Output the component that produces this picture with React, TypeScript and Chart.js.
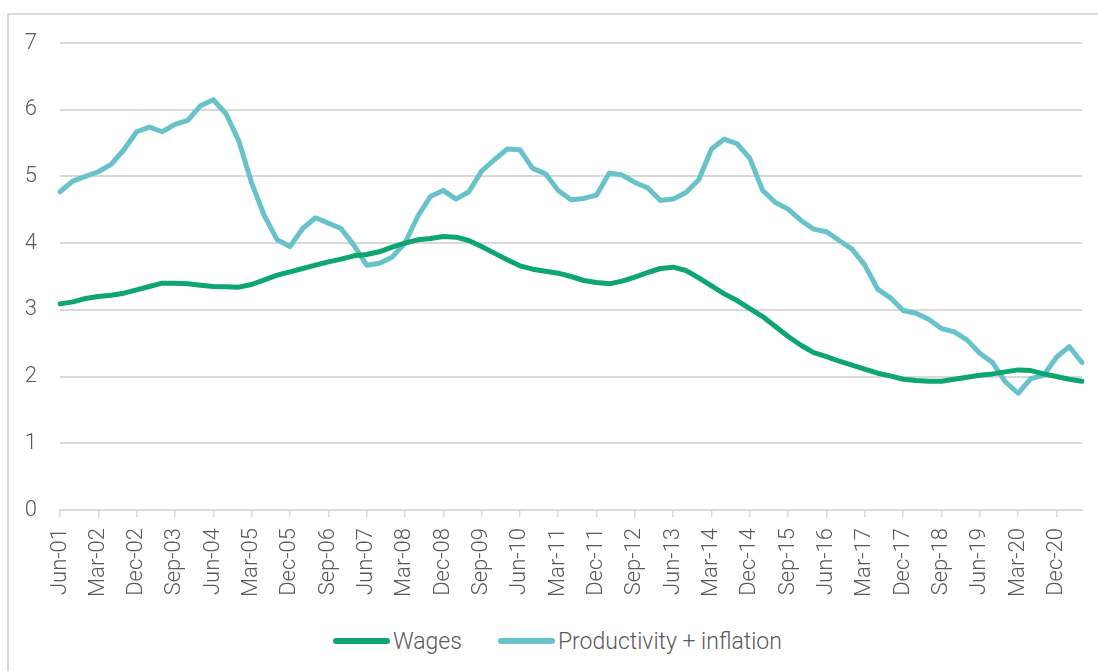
import React, { useEffect, useRef } from "react";
import { Chart, registerables } from "chart.js";

Chart.register(...registerables);

const quarters: string[] = [
  "Jun-01", "Sep-01", "Dec-01",
  "Mar-02", "Jun-02", "Sep-02", "Dec-02",
  "Mar-03", "Jun-03", "Sep-03", "Dec-03",
  "Mar-04", "Jun-04", "Sep-04", "Dec-04",
  "Mar-05", "Jun-05", "Sep-05", "Dec-05",
  "Mar-06", "Jun-06", "Sep-06", "Dec-06",
  "Mar-07", "Jun-07", "Sep-07", "Dec-07",
  "Mar-08", "Jun-08", "Sep-08", "Dec-08",
  "Mar-09", "Jun-09", "Sep-09", "Dec-09",
  "Mar-10", "Jun-10", "Sep-10", "Dec-10",
  "Mar-11", "Jun-11", "Sep-11", "Dec-11",
  "Mar-12", "Jun-12", "Sep-12", "Dec-12",
  "Mar-13", "Jun-13", "Sep-13", "Dec-13",
  "Mar-14", "Jun-14", "Sep-14", "Dec-14",
  "Mar-15", "Jun-15", "Sep-15", "Dec-15",
  "Mar-16", "Jun-16", "Sep-16", "Dec-16",
  "Mar-17", "Jun-17", "Sep-17", "Dec-17",
  "Mar-18", "Jun-18", "Sep-18", "Dec-18",
  "Mar-19", "Jun-19", "Sep-19", "Dec-19",
  "Mar-20", "Jun-20", "Sep-20", "Dec-20",
  "Mar-21", "Jun-21",
];

const wages: number[] = [
  3.09, 3.12, 3.17, 3.20, 3.22, 3.25, 3.30, 3.35, 3.40, 3.40,
  3.39, 3.37, 3.35, 3.345, 3.34, 3.38, 3.45, 3.52, 3.57, 3.62,
  3.67, 3.72, 3.76, 3.81, 3.83, 3.87, 3.94, 4.00, 4.05, 4.07,
  4.10, 4.09, 4.04, 3.95, 3.85, 3.75, 3.66, 3.61, 3.58, 3.55,
  3.50, 3.44, 3.41, 3.39, 3.43, 3.49, 3.56, 3.62, 3.64, 3.59,
  3.48, 3.36, 3.24, 3.14, 3.02, 2.90, 2.75, 2.60, 2.47, 2.36,
  2.30, 2.23, 2.17, 2.11, 2.05, 2.01, 1.96, 1.94, 1.93, 1.93,
  1.96, 1.99, 2.02, 2.04, 2.07, 2.10, 2.09, 2.04, 2.00, 1.96,
  1.93,
];

const productivityInflation: number[] = [
  4.77, 4.93, 5.00, 5.07, 5.18, 5.40, 5.67, 5.74, 5.67, 5.78,
  5.84, 6.06, 6.15, 5.94, 5.53, 4.90, 4.41, 4.05, 3.95, 4.22,
  4.38, 4.30, 4.22, 3.97, 3.67, 3.70, 3.79, 4.00, 4.40, 4.70,
  4.79, 4.66, 4.77, 5.08, 5.25, 5.41, 5.40, 5.12, 5.04, 4.79,
  4.65, 4.67, 4.72, 5.05, 5.02, 4.91, 4.83, 4.64, 4.66, 4.76,
  4.95, 5.41, 5.56, 5.49, 5.27, 4.79, 4.61, 4.51, 4.34, 4.21,
  4.17, 4.04, 3.91, 3.67, 3.31, 3.18, 2.99, 2.95, 2.86, 2.72,
  2.67, 2.55, 2.35, 2.21, 1.92, 1.75, 1.97, 2.02, 2.29, 2.45,
  2.21,
];

const yTicks: number[] = [0, 1, 2, 3, 4, 5, 6, 7];

const WAGES_COLOR = "#0DA66F";
const PROD_COLOR = "#67C3C9";
const GRID = "#D9D9D9";
const TEXT = "#595959";
const FONT = "Roboto, 'Noto Sans', sans-serif";

export default function App() {
  const canvasRef = useRef<HTMLCanvasElement | null>(null);

  useEffect(() => {
    if (!canvasRef.current) return;
    const chart = new Chart(canvasRef.current, {
      type: "line",
      data: {
        labels: quarters,
        datasets: [
          {
            label: "Wages",
            data: wages,
            borderColor: WAGES_COLOR,
            backgroundColor: WAGES_COLOR,
            borderWidth: 5,
            pointRadius: 0,
            tension: 0,
            borderCapStyle: "round",
            borderJoinStyle: "round",
          },
          {
            label: "Productivity + inflation",
            data: productivityInflation,
            borderColor: PROD_COLOR,
            backgroundColor: PROD_COLOR,
            borderWidth: 5,
            pointRadius: 0,
            tension: 0,
            borderCapStyle: "round",
            borderJoinStyle: "round",
          },
        ],
      },
      options: {
        animation: false,
        responsive: false,
        maintainAspectRatio: false,
        layout: { padding: { top: 28, right: 16, left: 0, bottom: 0 } },
        plugins: {
          legend: { display: false },
          tooltip: { enabled: false },
        },
        scales: {
          x: {
            type: "category",
            offset: false,
            grid: {
              drawOnChartArea: false,
              drawTicks: true,
              tickLength: 7,
              lineWidth: 1.5,
              tickColor: (ctx: any) => (ctx.index % 3 === 0 ? GRID : "rgba(0,0,0,0)"),
            },
            border: { display: true, color: GRID, width: 2 },
            ticks: {
              autoSkip: false,
              maxRotation: 90,
              minRotation: 90,
              padding: 11,
              color: TEXT,
              font: { family: FONT, size: 22, weight: 300 as any },
              callback: (_v: any, i: number) => (i % 3 === 0 ? quarters[i] : ""),
            },
            afterFit: (scale: any) => {
              scale.height = 105;
              scale.paddingLeft = 0;
              scale.paddingRight = 0;
            },
          },
          y: {
            min: 0,
            max: 7,
            afterBuildTicks: (scale: any) => {
              scale.ticks = yTicks.map((v) => ({ value: v }));
            },
            grid: {
              color: GRID,
              lineWidth: 2,
              drawTicks: false,
            },
            border: { display: false },
            ticks: {
              padding: 23,
              color: TEXT,
              font: { family: FONT, size: 22, weight: 300 as any },
            },
            afterFit: (scale: any) => {
              scale.width = 51;
              scale.paddingTop = 0;
              scale.paddingBottom = 0;
            },
          },
        },
      },
    });
    return () => chart.destroy();
  }, []);

  return (
    <div
      style={{
        position: "fixed",
        left: 0,
        top: 0,
        width: 1098,
        height: 671,
        overflow: "hidden",
        background: "#ffffff",
      }}
    >
      <div
        style={{
          position: "absolute",
          left: 7,
          top: 13,
          width: 1300,
          height: 900,
          borderTop: `2px solid ${GRID}`,
          borderLeft: `2px solid ${GRID}`,
          boxSizing: "border-box",
        }}
      />
      <canvas
        ref={canvasRef}
        width={1089}
        height={600}
        style={{ position: "absolute", left: 9, top: 15, width: 1089, height: 600 }}
      />
      <div
        style={{
          position: "absolute",
          left: 333,
          top: 627,
          height: 28,
          display: "flex",
          alignItems: "center",
          fontFamily: FONT,
          fontWeight: 300,
          fontSize: 23,
          color: TEXT,
          whiteSpace: "nowrap",
        }}
      >
        <span style={{ display: "flex", alignItems: "center" }}>
          <span
            style={{
              display: "inline-block",
              width: 57,
              height: 6,
              borderRadius: 3,
              background: WAGES_COLOR,
              marginRight: 3,
            }}
          />
          <span>Wages</span>
        </span>
        <span style={{ display: "flex", alignItems: "center", marginLeft: 36 }}>
          <span
            style={{
              display: "inline-block",
              width: 57,
              height: 6,
              borderRadius: 3,
              background: PROD_COLOR,
              marginRight: 3,
            }}
          />
          <span>Productivity + inflation</span>
        </span>
      </div>
    </div>
  );
}
